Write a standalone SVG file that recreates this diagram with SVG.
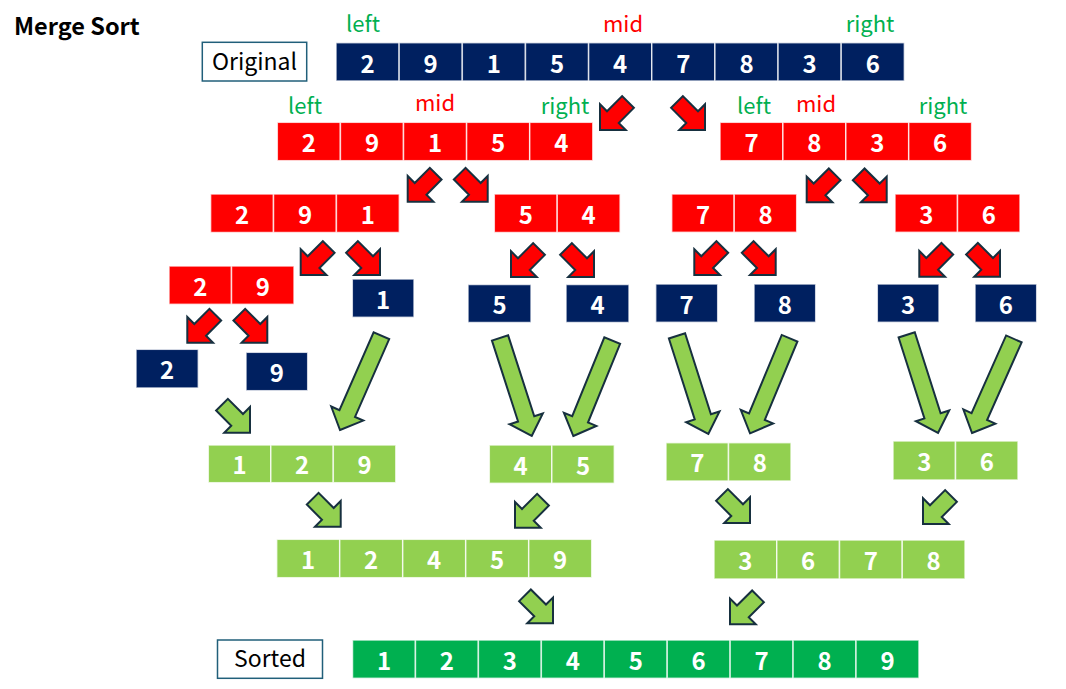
<svg xmlns="http://www.w3.org/2000/svg" xmlns:xlink="http://www.w3.org/1999/xlink" width="1066" height="689" viewBox="0 0 1066 689">
<style>
text{font-family:"Noto Sans CJK KR","Noto Sans",sans-serif}
.c{stroke:#fff;stroke-opacity:.75;stroke-width:1.5}
.n{fill:#002060}.r{fill:#ff0000}.g{fill:#92d050}.s{fill:#00b050}
.d{font-size:24px;font-weight:bold;fill:#fff;text-anchor:middle}
.lg{font-size:22px;fill:#00b050;text-anchor:middle}
.lr{font-size:22px;fill:#ff0000;text-anchor:middle}
.box{fill:#fff;stroke:#215f7a;stroke-width:1.5}
.bt{font-size:23px;fill:#000;text-anchor:middle}
.ar{stroke:#17303f;stroke-width:2;stroke-linejoin:miter}
.ared{fill:#ff0000}.agr{fill:#92d050}
</style>
<defs>
<path id="sa" d="M0,0 L-18.2,-18.2 L-18.2,-8.3 L-39.6,-8.3 L-39.6,8.3 L-18.2,8.3 L-18.2,18.2 Z"/>
<path id="la" d="M0,0 L-18,-17.5 L-18,-8.5 L-103,-8.5 L-103,8.5 L-18,8.5 L-18,17.5 Z"/>
</defs>
<rect width="1066" height="689" fill="#fff"/>
<text x="14" y="35" style="font-size:23.5px;font-weight:bold;fill:#000">Merge Sort</text>

<g id="labels">
<text class="lg" x="363" y="32">left</text>
<text class="lr" x="623" y="32">mid</text>
<text class="lg" x="870" y="32">right</text>
<text class="lg" x="305" y="113.5">left</text>
<text class="lr" x="435" y="111">mid</text>
<text class="lg" x="565" y="113.5">right</text>
<text class="lg" x="754" y="114">left</text>
<text class="lr" x="816" y="111.5">mid</text>
<text class="lg" x="943" y="114">right</text>
</g>

<g id="original-label">
<rect class="box" x="202.3" y="42.3" width="104.4" height="38.7"/>
<text class="bt" x="254.5" y="70">Original</text>
</g>

<g id="row-original">
<rect class="c n" x="336" y="42.7" width="63.15" height="38.3"/>
<rect class="c n" x="399.15" y="42.7" width="63.15" height="38.3"/>
<rect class="c n" x="462.3" y="42.7" width="63.15" height="38.3"/>
<rect class="c n" x="525.45" y="42.7" width="63.15" height="38.3"/>
<rect class="c n" x="588.6" y="42.7" width="63.15" height="38.3"/>
<rect class="c n" x="651.75" y="42.7" width="63.15" height="38.3"/>
<rect class="c n" x="714.9" y="42.7" width="63.15" height="38.3"/>
<rect class="c n" x="778.05" y="42.7" width="63.15" height="38.3"/>
<rect class="c n" x="841.2" y="42.7" width="63.15" height="38.3"/>
<text class="d" x="367.6" y="72.5">2</text>
<text class="d" x="430.7" y="72.5">9</text>
<text class="d" x="493.9" y="72.5">1</text>
<text class="d" x="557" y="72.5">5</text>
<text class="d" x="620.2" y="72.5">4</text>
<text class="d" x="683.3" y="72.5">7</text>
<text class="d" x="746.5" y="72.5">8</text>
<text class="d" x="809.6" y="72.5">3</text>
<text class="d" x="872.8" y="72.5">6</text>
</g>

<g id="row2-left">
<rect class="c r" x="277.3" y="122.3" width="63.1" height="38.4"/>
<rect class="c r" x="340.4" y="122.3" width="63.1" height="38.4"/>
<rect class="c r" x="403.5" y="122.3" width="63.1" height="38.4"/>
<rect class="c r" x="466.6" y="122.3" width="63.1" height="38.4"/>
<rect class="c r" x="529.7" y="122.3" width="63.1" height="38.4"/>
<text class="d" x="308.9" y="152">2</text>
<text class="d" x="372" y="152">9</text>
<text class="d" x="435.1" y="152">1</text>
<text class="d" x="498.2" y="152">5</text>
<text class="d" x="561.3" y="152">4</text>
</g>

<g id="row2-right">
<rect class="c r" x="720" y="122.3" width="62.9" height="38.4"/>
<rect class="c r" x="782.9" y="122.3" width="62.9" height="38.4"/>
<rect class="c r" x="845.8" y="122.3" width="62.9" height="38.4"/>
<rect class="c r" x="908.7" y="122.3" width="62.9" height="38.4"/>
<text class="d" x="751.5" y="152">7</text>
<text class="d" x="814.4" y="152">8</text>
<text class="d" x="877.3" y="152">3</text>
<text class="d" x="940.2" y="152">6</text>
</g>

<g id="row3-291">
<rect class="c r" x="210.6" y="194" width="62.9" height="38.5"/>
<rect class="c r" x="273.5" y="194" width="62.9" height="38.5"/>
<rect class="c r" x="336.4" y="194" width="62.9" height="38.5"/>
<text class="d" x="242.1" y="223.7">2</text>
<text class="d" x="305" y="223.7">9</text>
<text class="d" x="367.9" y="223.7">1</text>
</g>
<g id="row3-54">
<rect class="c r" x="494.3" y="194" width="62.9" height="38.5"/>
<rect class="c r" x="557.2" y="194" width="62.9" height="38.5"/>
<text class="d" x="525.8" y="223.7">5</text>
<text class="d" x="588.7" y="223.7">4</text>
</g>
<g id="row3-78">
<rect class="c r" x="671.7" y="194" width="62.5" height="38.3"/>
<rect class="c r" x="734.2" y="194" width="62.5" height="38.3"/>
<text class="d" x="703" y="223.5">7</text>
<text class="d" x="765.5" y="223.5">8</text>
</g>
<g id="row3-36">
<rect class="c r" x="895" y="194" width="62.5" height="38.3"/>
<rect class="c r" x="957.5" y="194" width="62.5" height="38.3"/>
<text class="d" x="926.3" y="223.5">3</text>
<text class="d" x="988.8" y="223.5">6</text>
</g>

<g id="row4-29">
<rect class="c r" x="169" y="266" width="62.5" height="38.3"/>
<rect class="c r" x="231.5" y="266" width="62.5" height="38.3"/>
<text class="d" x="200.3" y="295.8">2</text>
<text class="d" x="262.8" y="295.8">9</text>
</g>
<g id="leaf-1"><rect class="c n" x="352.3" y="279" width="61.7" height="38.3"/><text class="d" x="383.2" y="308.8">1</text></g>
<g id="leaf-5"><rect class="c n" x="468" y="284.5" width="63" height="38"/><text class="d" x="499.5" y="314">5</text></g>
<g id="leaf-4"><rect class="c n" x="566" y="284.5" width="63" height="38"/><text class="d" x="597.5" y="314">4</text></g>
<g id="leaf-7"><rect class="c n" x="655.7" y="284" width="62" height="38.3"/><text class="d" x="686.7" y="313.8">7</text></g>
<g id="leaf-8"><rect class="c n" x="754" y="284" width="61.7" height="38.3"/><text class="d" x="784.9" y="313.8">8</text></g>
<g id="leaf-3"><rect class="c n" x="877.3" y="284" width="61.7" height="38.3"/><text class="d" x="908.2" y="313.8">3</text></g>
<g id="leaf-6"><rect class="c n" x="975" y="284" width="61.7" height="38.3"/><text class="d" x="1005.9" y="313.8">6</text></g>
<g id="leaf-2"><rect class="c n" x="136" y="349.3" width="62.3" height="38.7"/><text class="d" x="167.2" y="379">2</text></g>
<g id="leaf-9"><rect class="c n" x="246" y="352.3" width="61.7" height="38.4"/><text class="d" x="276.9" y="382">9</text></g>

<g id="merge-129">
<rect class="c g" x="208.3" y="445" width="62.5" height="37.7"/>
<rect class="c g" x="270.8" y="445" width="62.5" height="37.7"/>
<rect class="c g" x="333.3" y="445" width="62.5" height="37.7"/>
<text class="d" x="239.5" y="474">1</text>
<text class="d" x="302" y="474">2</text>
<text class="d" x="364.5" y="474">9</text>
</g>
<g id="merge-45">
<rect class="c g" x="489.3" y="445" width="62.5" height="38.3"/>
<rect class="c g" x="551.8" y="445" width="62.5" height="38.3"/>
<text class="d" x="520.6" y="474.5">4</text>
<text class="d" x="583.1" y="474.5">5</text>
</g>
<g id="merge-78">
<rect class="c g" x="666" y="442.7" width="62.5" height="38.3"/>
<rect class="c g" x="728.5" y="442.7" width="62.5" height="38.3"/>
<text class="d" x="697.3" y="472">7</text>
<text class="d" x="759.8" y="472">8</text>
</g>
<g id="merge-36">
<rect class="c g" x="893" y="441" width="62.5" height="39"/>
<rect class="c g" x="955.5" y="441" width="62.5" height="39"/>
<text class="d" x="924.3" y="470.5">3</text>
<text class="d" x="986.8" y="470.5">6</text>
</g>

<g id="merge-12459">
<rect class="c g" x="276.7" y="539.3" width="63" height="38.4"/>
<rect class="c g" x="339.7" y="539.3" width="63" height="38.4"/>
<rect class="c g" x="402.7" y="539.3" width="63" height="38.4"/>
<rect class="c g" x="465.7" y="539.3" width="63" height="38.4"/>
<rect class="c g" x="528.7" y="539.3" width="63" height="38.4"/>
<text class="d" x="308.2" y="569">1</text>
<text class="d" x="371.2" y="569">2</text>
<text class="d" x="434.2" y="569">4</text>
<text class="d" x="497.2" y="569">5</text>
<text class="d" x="560.2" y="569">9</text>
</g>
<g id="merge-3678">
<rect class="c g" x="714" y="540" width="62.75" height="39"/>
<rect class="c g" x="776.75" y="540" width="62.75" height="39"/>
<rect class="c g" x="839.5" y="540" width="62.75" height="39"/>
<rect class="c g" x="902.25" y="540" width="62.75" height="39"/>
<text class="d" x="745.4" y="569.8">3</text>
<text class="d" x="808.1" y="569.8">6</text>
<text class="d" x="870.9" y="569.8">7</text>
<text class="d" x="933.6" y="569.8">8</text>
</g>

<g id="sorted-label">
<rect class="box" x="217.5" y="640" width="105" height="38.3"/>
<text class="bt" x="270" y="667.3">Sorted</text>
</g>
<g id="row-sorted">
<rect class="c s" x="352.5" y="640" width="62.94" height="38.3"/>
<rect class="c s" x="415.44" y="640" width="62.94" height="38.3"/>
<rect class="c s" x="478.38" y="640" width="62.94" height="38.3"/>
<rect class="c s" x="541.32" y="640" width="62.94" height="38.3"/>
<rect class="c s" x="604.26" y="640" width="62.94" height="38.3"/>
<rect class="c s" x="667.2" y="640" width="62.94" height="38.3"/>
<rect class="c s" x="730.14" y="640" width="62.94" height="38.3"/>
<rect class="c s" x="793.08" y="640" width="62.94" height="38.3"/>
<rect class="c s" x="856.02" y="640" width="62.94" height="38.3"/>
<text class="d" x="384" y="669.8">1</text>
<text class="d" x="446.9" y="669.8">2</text>
<text class="d" x="509.9" y="669.8">3</text>
<text class="d" x="572.8" y="669.8">4</text>
<text class="d" x="635.8" y="669.8">5</text>
<text class="d" x="698.7" y="669.8">6</text>
<text class="d" x="761.6" y="669.8">7</text>
<text class="d" x="824.6" y="669.8">8</text>
<text class="d" x="887.5" y="669.8">9</text>
</g>

<g id="connectors">
<use href="#sa" xlink:href="#sa" class="ar ared" transform="translate(600,130) rotate(135)"/>
<use href="#sa" xlink:href="#sa" class="ar ared" transform="translate(705,130) rotate(45)"/>
<use href="#sa" xlink:href="#sa" class="ar ared" transform="translate(407.7,201.7) rotate(135)"/>
<use href="#sa" xlink:href="#sa" class="ar ared" transform="translate(487.7,201.7) rotate(45)"/>
<use href="#sa" xlink:href="#sa" class="ar ared" transform="translate(806.7,202.3) rotate(135)"/>
<use href="#sa" xlink:href="#sa" class="ar ared" transform="translate(886.7,202.3) rotate(45)"/>
<use href="#sa" xlink:href="#sa" class="ar ared" transform="translate(300.7,275) rotate(135)"/>
<use href="#sa" xlink:href="#sa" class="ar ared" transform="translate(380,275) rotate(45)"/>
<use href="#sa" xlink:href="#sa" class="ar ared" transform="translate(511,277) rotate(135)"/>
<use href="#sa" xlink:href="#sa" class="ar ared" transform="translate(594,277) rotate(45)"/>
<use href="#sa" xlink:href="#sa" class="ar ared" transform="translate(694.3,275) rotate(135)"/>
<use href="#sa" xlink:href="#sa" class="ar ared" transform="translate(775.7,275) rotate(45)"/>
<use href="#sa" xlink:href="#sa" class="ar ared" transform="translate(919.3,276.7) rotate(135)"/>
<use href="#sa" xlink:href="#sa" class="ar ared" transform="translate(1000,276.7) rotate(45)"/>
<use href="#sa" xlink:href="#sa" class="ar ared" transform="translate(187.3,342.7) rotate(135)"/>
<use href="#sa" xlink:href="#sa" class="ar ared" transform="translate(267.3,342.7) rotate(45)"/>

<use href="#la" xlink:href="#la" class="ar agr" transform="translate(340,430) rotate(113.7)"/>
<use href="#la" xlink:href="#la" class="ar agr" transform="translate(531.7,436) rotate(72.1)"/>
<use href="#la" xlink:href="#la" class="ar agr" transform="translate(573.3,436) rotate(112.2)"/>
<use href="#la" xlink:href="#la" class="ar agr" transform="translate(708.3,434) rotate(72.3)"/>
<use href="#la" xlink:href="#la" class="ar agr" transform="translate(750,433.3) rotate(112.6)"/>
<use href="#la" xlink:href="#la" class="ar agr" transform="translate(938,433) rotate(72.3)"/>
<use href="#la" xlink:href="#la" class="ar agr" transform="translate(972,433) rotate(114)"/>

<use href="#sa" xlink:href="#sa" class="ar agr" transform="translate(250,432.7) rotate(45)"/>
<use href="#sa" xlink:href="#sa" class="ar agr" transform="translate(340.7,526.7) rotate(45)"/>
<use href="#sa" xlink:href="#sa" class="ar agr" transform="translate(515,527.7) rotate(135)"/>
<use href="#sa" xlink:href="#sa" class="ar agr" transform="translate(750,523) rotate(45)"/>
<use href="#sa" xlink:href="#sa" class="ar agr" transform="translate(923,524) rotate(135)"/>
<use href="#sa" xlink:href="#sa" class="ar agr" transform="translate(553,623.3) rotate(45)"/>
<use href="#sa" xlink:href="#sa" class="ar agr" transform="translate(730,624.3) rotate(135)"/>
</g>
</svg>
